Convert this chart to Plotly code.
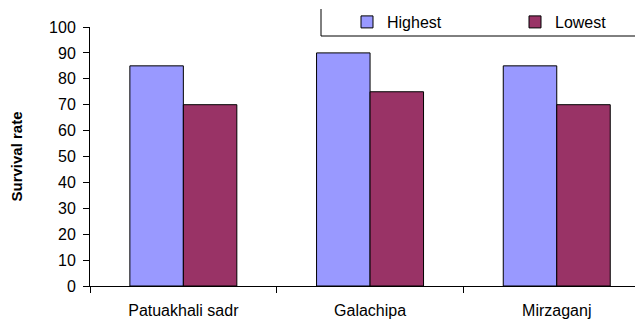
import plotly.graph_objects as go

categories = ["Patuakhali sadr", "Galachipa", "Mirzaganj"]
highest = [85, 90, 85]
lowest = [70, 75, 70]
y_ticks = [0, 10, 20, 30, 40, 50, 60, 70, 80, 90, 100]

# the page is offset by an 8px body margin, so work in image pixels
OFF = 8
W, H = 643 + OFF, 326
L, R, T, B = 90 - OFF, 0, 27 - OFF, 40 + OFF
pw = W - L - R
ph = H - T - B
PLOT_LEFT_IMG = L + OFF
PLOT_BOTTOM_IMG = H - B + OFF


def px_x(x):
    return (x - PLOT_LEFT_IMG) / pw


def px_y(y):
    return (PLOT_BOTTOM_IMG - y) / ph


cat_px = 186.7
x_max = -0.5 + pw / cat_px

fig = go.Figure()
fig.add_trace(go.Bar(name="Highest", x=categories, y=highest, legend="legend",
                     marker=dict(color="#9999FF", line=dict(color="#000000", width=1))))
fig.add_trace(go.Bar(name="Lowest", x=categories, y=lowest, legend="legend2",
                     marker=dict(color="#993366", line=dict(color="#000000", width=1))))

leg_common = dict(orientation="h", xanchor="left", yanchor="middle", y=px_y(22),
                  bgcolor="rgba(0,0,0,0)", borderwidth=0,
                  font=dict(size=16, color="black"))

fig.update_layout(
    width=W, height=H,
    margin=dict(l=L, r=R, t=T, b=B, autoexpand=False),
    paper_bgcolor="white", plot_bgcolor="white",
    font=dict(family="Liberation Sans, Arial, sans-serif", size=16, color="black"),
    barmode="group", bargap=0.427, bargroupgap=0,
    showlegend=True,
    legend=dict(x=px_x(347), **leg_common),
    legend2=dict(x=px_x(515), **leg_common),
    xaxis=dict(type="category", range=[-0.5, x_max], tickson="boundaries",
               showline=True, linecolor="black", linewidth=1,
               ticks="outside", ticklen=6, tickcolor="black", showgrid=False,
               tickfont=dict(size=16), ticklabelstandoff=10),
    yaxis=dict(range=[0, 100], tickvals=y_ticks, showline=True, linecolor="black", linewidth=1,
               ticks="outside", ticklen=6, tickcolor="black", showgrid=False, zeroline=False,
               tickfont=dict(size=16), ticklabelstandoff=4,
               title=dict(text="<b>Survival rate</b>", font=dict(size=15), standoff=23)),
    shapes=[
        dict(type="line", xref="paper", yref="paper", x0=px_x(321), x1=px_x(321),
             y0=px_y(36), y1=px_y(9), line=dict(color="black", width=1)),
        dict(type="line", xref="paper", yref="paper", x0=px_x(321), x1=1.0,
             y0=px_y(36), y1=px_y(36), line=dict(color="black", width=1)),
    ],
)

fig.write_html("out.html")
